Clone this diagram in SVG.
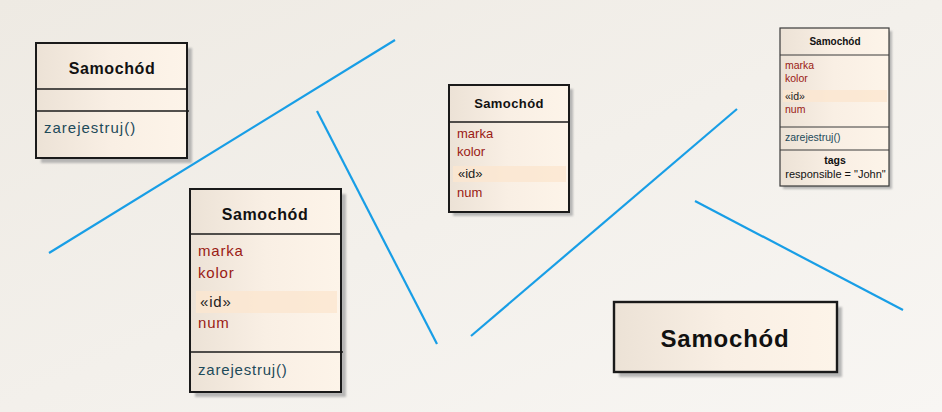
<svg xmlns="http://www.w3.org/2000/svg" width="942" height="412" viewBox="0 0 942 412">
<defs>
<linearGradient id="bg" x1="0" y1="0" x2="1" y2="1">
<stop offset="0" stop-color="#eeeae3"/>
<stop offset="1" stop-color="#f8f6f3"/>
</linearGradient>
<linearGradient id="boxfill" x1="0" y1="0" x2="1" y2="0">
<stop offset="0" stop-color="#ece2d6"/>
<stop offset="0.5" stop-color="#f9efe4"/>
<stop offset="1" stop-color="#fdf4e9"/>
</linearGradient>
<filter id="sh" x="-10%" y="-10%" width="130%" height="130%">
<feGaussianBlur stdDeviation="1"/>
</filter>
</defs>
<style>
.shadow{fill:#a8a8a8;opacity:0.8;filter:url(#sh)}
.box{fill:url(#boxfill);stroke:#1a1a1a;stroke-width:2}
.sep{stroke:#1a1a1a;stroke-width:1.6}
.band{fill:#fbe6cf;opacity:0.8}
.title{font-family:"Liberation Sans",Arial,sans-serif;font-weight:bold;fill:#111;text-anchor:middle}
.attr{font-family:"Liberation Sans",Arial,sans-serif;fill:#9a1a14}
.stereo{font-family:"Liberation Sans",Arial,sans-serif;fill:#222}
.op{font-family:"Liberation Sans",Arial,sans-serif;fill:#1d4a5a}
.tag{font-family:"Liberation Sans",Arial,sans-serif;fill:#111;text-anchor:middle}
.line{stroke:#189ee6;stroke-width:2.2;fill:none}
</style>
<rect x="0" y="0" width="942" height="412" fill="url(#bg)"/>

<g id="lines">
<line class="line" x1="49" y1="253" x2="395" y2="40"/>
<line class="line" x1="317" y1="111" x2="437" y2="344"/>
<line class="line" x1="471" y1="336" x2="737" y2="109"/>
<line class="line" x1="695" y1="201" x2="903" y2="310"/>
</g>

<g id="class1">
<rect class="shadow" x="41" y="48" width="151" height="115"/>
<rect class="box" x="36" y="43" width="151" height="115"/>
<line class="sep" x1="36" y1="89" x2="187" y2="89"/>
<line class="sep" x1="36" y1="111" x2="189" y2="111"/>
<text class="title" x="112" y="74" font-size="16" letter-spacing="0.6">Samochód</text>
<text class="op" x="44" y="133" font-size="15" letter-spacing="1">zarejestruj()</text>
</g>

<g id="class2">
<rect class="shadow" x="195" y="194" width="151" height="203"/>
<rect class="box" x="190" y="189" width="151" height="203"/>
<line class="sep" x1="190" y1="234" x2="341" y2="234"/>
<rect class="band" x="196" y="291" width="141" height="22"/>
<line class="sep" x1="190" y1="352" x2="343" y2="352"/>
<text class="title" x="265" y="220" font-size="16" letter-spacing="0.6">Samochód</text>
<text class="attr" x="198" y="256" font-size="15" letter-spacing="0.8">marka</text>
<text class="attr" x="198" y="278" font-size="15" letter-spacing="0.8">kolor</text>
<text class="stereo" x="200" y="307" font-size="15" letter-spacing="0.8">«id»</text>
<text class="attr" x="198" y="328" font-size="15" letter-spacing="0.8">num</text>
<text class="op" x="198" y="375" font-size="15" letter-spacing="0.8">zarejestruj()</text>
</g>

<g id="class3">
<rect class="shadow" x="453" y="89" width="120" height="127"/>
<rect class="box" x="449" y="85" width="120" height="127"/>
<line class="sep" x1="449" y1="122" x2="569" y2="122"/>
<rect class="band" x="453" y="166" width="113" height="16"/>
<text class="title" x="509" y="108" font-size="13" letter-spacing="0.4">Samochód</text>
<text class="attr" x="457" y="138" font-size="13">marka</text>
<text class="attr" x="457" y="156" font-size="13">kolor</text>
<text class="stereo" x="458" y="178" font-size="13">«id»</text>
<text class="attr" x="457" y="197" font-size="13">num</text>
</g>

<g id="class4">
<rect class="shadow" x="783" y="31" width="109" height="158"/>
<rect class="box" x="780" y="28" width="109" height="158" style="stroke-width:1.2;stroke:#3a3a3a"/>
<line class="sep" x1="780" y1="55" x2="889" y2="55" style="stroke-width:1;stroke:#3a3a3a"/>
<rect class="band" x="783" y="90" width="104" height="12"/>
<line class="sep" x1="780" y1="127" x2="889" y2="127" style="stroke-width:1;stroke:#3a3a3a"/>
<line class="sep" x1="780" y1="150" x2="889" y2="150" style="stroke-width:1;stroke:#3a3a3a"/>
<text class="title" x="835" y="45" font-size="10">Samochód</text>
<text class="attr" x="785" y="69" font-size="10.5">marka</text>
<text class="attr" x="785" y="82" font-size="10.5">kolor</text>
<text class="stereo" x="785" y="100" font-size="10.5">«id»</text>
<text class="attr" x="785" y="113" font-size="10.5">num</text>
<text class="op" x="785" y="141" font-size="10.5">zarejestruj()</text>
<text class="tag" x="835" y="164" font-size="10.5" font-weight="bold">tags</text>
<text class="tag" x="835.5" y="178" font-size="11">responsible = "John"</text>
</g>

<g id="class5">
<rect class="shadow" x="619" y="307" width="223" height="70"/>
<rect class="box" x="614" y="302" width="223" height="70" style="stroke-width:2.4"/>
<text class="title" x="725" y="347" font-size="24" letter-spacing="0.8">Samochód</text>
</g>
</svg>
